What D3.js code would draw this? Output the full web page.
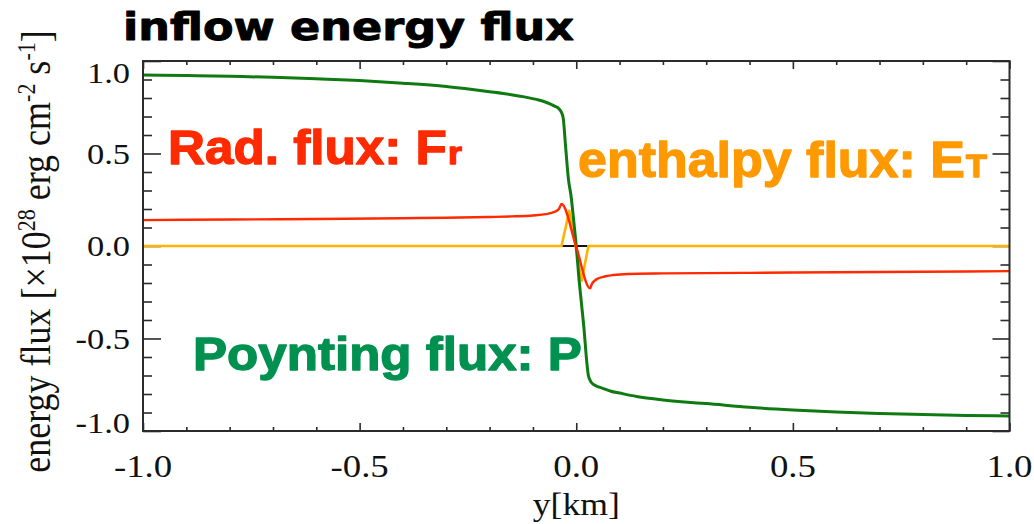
<!DOCTYPE html>
<html>
<head>
<meta charset="utf-8">
<script src="https://cdn.jsdelivr.net/npm/d3@7"></script>
<style>
  html, body { margin: 0; padding: 0; background: #fff; }
  svg { display: block; }
</style>
</head>
<body>
<svg id="chart" width="1034" height="524"></svg>
<script>
// Position along the current sheet, y [km]
const poyntingY = [-1.0, -0.9, -0.8, -0.7, -0.6, -0.5, -0.4, -0.3, -0.2, -0.15, -0.12, -0.09, -0.07,
  -0.05, -0.04, -0.034, -0.030, -0.025, -0.018, -0.012, -0.006, 0.0, 0.006, 0.012, 0.018, 0.024,
  0.028, 0.034, 0.045, 0.06, 0.08, 0.10, 0.15, 0.2, 0.25, 0.3, 0.4, 0.5, 0.6, 0.7, 0.8, 0.9, 1.0];
// Poynting flux P [1e28 erg cm^-2 s^-1]
const poyntingFlux = [0.924, 0.921, 0.917, 0.912, 0.904, 0.894, 0.880, 0.862, 0.834, 0.818, 0.806, 0.791, 0.777,
  0.756, 0.742, 0.722, 0.69, 0.55, 0.36, 0.27, 0.14, 0.0, -0.17, -0.31, -0.45, -0.62,
  -0.70, -0.735, -0.755, -0.768, -0.785, -0.795, -0.818, -0.832, -0.843, -0.852, -0.872, -0.886, -0.897, -0.905, -0.911, -0.916, -0.919];

// Radiative flux F_r
const radY = [-1.0, -0.8, -0.6, -0.4, -0.3, -0.2, -0.15, -0.1, -0.07, -0.05, -0.04, -0.034,
  0.0, 0.032, 0.036, 0.042, 0.05, 0.065, 0.085, 0.12, 0.2, 0.4, 0.6, 0.8, 1.0];
const radFlux = [0.140, 0.143, 0.146, 0.150, 0.153, 0.157, 0.160, 0.165, 0.172, 0.185, 0.200, 0.227,
  -0.005, -0.229, -0.205, -0.188, -0.176, -0.165, -0.157, -0.151, -0.148, -0.145, -0.142, -0.139, -0.136];

// Enthalpy flux E_T
const enthY = [-1.0, -0.034, -0.016, 0.0126, 0.028, 1.0];
const enthFlux = [0.0, 0.0, 0.19, -0.188, 0.0, 0.0];

// Remaining (kinetic) flux, essentially zero everywhere
const zeroY = [-1.0, 1.0];
const zeroFlux = [0.0, 0.0];

// Axis ticks
const xMajorTicks = [-1.0, -0.5, 0.0, 0.5, 1.0];
const xTickLabels = ["-1.0", "-0.5", "0.0", "0.5", "1.0"];
const yMajorTicks = [-1.0, -0.5, 0.0, 0.5, 1.0];
const yTickLabels = ["-1.0", "-0.5", "0.0", "0.5", "1.0"];
const minorStep = 0.1;

const svg = d3.select("#chart");
const L = 143, R = 1009.5, T = 61, B = 431;

const x = d3.scaleLinear().domain([-1, 1]).range([L, R]);
const y = d3.scaleLinear().domain([-1, 1]).range([B, T]);

const minorTicks = d3.range(-10, 11)
  .map(i => +(i * minorStep).toFixed(2))
  .filter(v => !xMajorTicks.includes(v));

const serif = "'Liberation Serif', 'Times New Roman', Times, serif";
const sans = "'Liberation Sans', Arial, Helvetica, sans-serif";
const wideSans = "'DejaVu Sans', Verdana, sans-serif";
const stretch = 1.15;
const axisColor = "#2b2b2b";

// Clip curves to the plot box
svg.append("defs").append("clipPath").attr("id", "plotClip")
  .append("rect").attr("x", L).attr("y", T).attr("width", R - L).attr("height", B - T);

// Tick marks (inside the box on all four sides)
function styleAxis(g) {
  g.select(".domain").remove();
  g.selectAll("text").remove();
  g.selectAll("line").attr("stroke", axisColor).attr("stroke-width", 1.6);
}
const axes = svg.append("g");
axes.append("g").attr("transform", `translate(0,${B})`)
  .call(d3.axisBottom(x).tickValues(xMajorTicks).tickSizeInner(-8).tickSizeOuter(0)).call(styleAxis);
axes.append("g").attr("transform", `translate(0,${B})`)
  .call(d3.axisBottom(x).tickValues(minorTicks).tickSizeInner(-4).tickSizeOuter(0)).call(styleAxis);
axes.append("g").attr("transform", `translate(0,${T})`)
  .call(d3.axisTop(x).tickValues(xMajorTicks).tickSizeInner(-8).tickSizeOuter(0)).call(styleAxis);
axes.append("g").attr("transform", `translate(0,${T})`)
  .call(d3.axisTop(x).tickValues(minorTicks).tickSizeInner(-4).tickSizeOuter(0)).call(styleAxis);
axes.append("g").attr("transform", `translate(${L},0)`)
  .call(d3.axisLeft(y).tickValues(yMajorTicks).tickSizeInner(-18).tickSizeOuter(0)).call(styleAxis);
axes.append("g").attr("transform", `translate(${L},0)`)
  .call(d3.axisLeft(y).tickValues(minorTicks).tickSizeInner(-9).tickSizeOuter(0)).call(styleAxis);
axes.append("g").attr("transform", `translate(${R},0)`)
  .call(d3.axisRight(y).tickValues(yMajorTicks).tickSizeInner(-17).tickSizeOuter(0)).call(styleAxis);
axes.append("g").attr("transform", `translate(${R},0)`)
  .call(d3.axisRight(y).tickValues(minorTicks).tickSizeInner(-9).tickSizeOuter(0)).call(styleAxis);

// Curves
const plot = svg.append("g").attr("clip-path", "url(#plotClip)");
function drawCurve(xs, vs, color, width, curve) {
  const pts = xs.map((d, i) => [d, vs[i]]);
  plot.append("path")
    .datum(pts)
    .attr("fill", "none")
    .attr("stroke", color)
    .attr("stroke-width", width)
    .attr("stroke-linejoin", "round")
    .attr("d", d3.line().x(d => x(d[0])).y(d => y(d[1])).curve(curve));
}
drawCurve(zeroY, zeroFlux, "#111", 2.2, d3.curveLinear);
drawCurve(enthY, enthFlux, "#ffb300", 2.6, d3.curveLinear);
drawCurve(poyntingY, poyntingFlux, "#0f7a12", 3, d3.curveMonotoneX);
drawCurve(radY, radFlux, "#ff2a00", 2.4, d3.curveMonotoneX);

// Box
svg.append("rect")
  .attr("x", L).attr("y", T).attr("width", R - L).attr("height", B - T)
  .attr("fill", "none").attr("stroke", axisColor).attr("stroke-width", 2);

// Horizontally widened text helper
function wideText(px, py, str, size, family, anchor, sx) {
  return svg.append("text")
    .attr("transform", `translate(${px},${py}) scale(${sx},1)`)
    .attr("text-anchor", anchor)
    .attr("font-family", family)
    .attr("font-size", size)
    .attr("fill", "#111")
    .text(str);
}

// Tick labels
yMajorTicks.forEach((v, i) => {
  const nudge = v === d3.max(yMajorTicks) ? 12 : (v === d3.min(yMajorTicks) ? -8 : 0);
  wideText(130, y(v) + 10 + nudge, yTickLabels[i], 30, serif, "end", stretch);
});
xMajorTicks.forEach((v, i) => {
  wideText(x(v), 477, xTickLabels[i], 32, serif, "middle", stretch);
});

// Axis titles
wideText((L + R) / 2, 515, "y[km]", 31, serif, "middle", stretch);

const yTitle = svg.append("text")
  .attr("transform", `translate(50,251.5) scale(${stretch},1) rotate(-90)`)
  .attr("text-anchor", "middle")
  .attr("font-family", serif)
  .attr("font-size", 36)
  .attr("fill", "#111");
const parts = [
  ["energy flux [\u00d710", 0], ["28", 1], [" erg cm", 0], ["-2", 1], [" s", 0], ["-1", 1], ["]", 0]
];
let raised = false;
parts.forEach(([s, sup]) => {
  const t = yTitle.append("tspan").text(s);
  if (sup && !raised) { t.attr("dy", -13).attr("font-size", 22); raised = true; }
  else if (sup) { t.attr("font-size", 22); }
  else if (raised) { t.attr("dy", 13); raised = false; }
});

// Heavy bold labels, fitted to a given width
function fittedLabel(px, py, str, size, color, width, family, weight) {
  const t = svg.append("text")
    .attr("font-family", family)
    .attr("font-weight", "bold")
    .attr("font-size", size)
    .attr("fill", color)
    .attr("stroke", color)
    .attr("stroke-width", weight)
    .attr("stroke-linejoin", "round")
    .text(str);
  const w = t.node().getComputedTextLength();
  t.attr("transform", `translate(${px},${py}) scale(${width / w},1)`);
  return t;
}

fittedLabel(123, 40, "inflow energy flux", 37, "#000", 451, wideSans, 0.9);
fittedLabel(168, 163.5, "Rad. flux: F", 48, "#ff2a00", 279, sans, 1.3);
fittedLabel(448, 163.5, "r", 32, "#ff2a00", 14, sans, 1.3);
fittedLabel(193, 370, "Poynting flux: P", 46, "#009150", 389, sans, 1.3);
fittedLabel(578, 177, "enthalpy flux: E", 50, "#ff9900", 387, sans, 1.3);
fittedLabel(966, 177, "T", 32, "#ff9900", 21, sans, 1.3);
</script>
</body>
</html>
